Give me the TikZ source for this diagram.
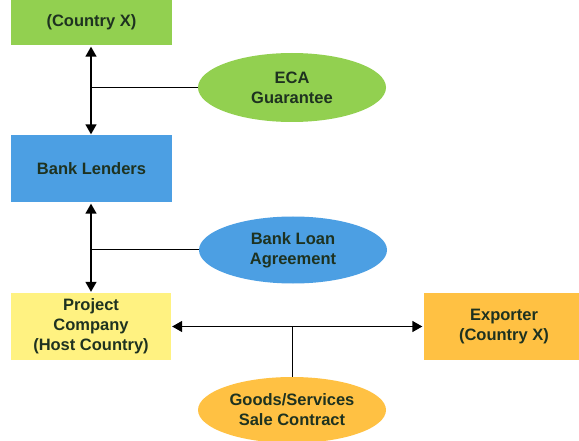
\documentclass[tikz,border=0pt]{standalone}
\usepackage{fontspec}
\setmainfont{Liberation Sans}
\usetikzlibrary{arrows.meta,shapes.geometric}

\definecolor{ecagreen}{HTML}{92D050}
\definecolor{bankblue}{HTML}{4C9FE3}
\definecolor{projyellow}{HTML}{FFF281}
\definecolor{expgold}{HTML}{FFC143}
\definecolor{inkdark}{HTML}{1E3220}

\tikzset{
  party/.style={rectangle, minimum width=161pt, minimum height=67pt, inner sep=0pt,
    align=center, text=inkdark, font=\bfseries\fontsize{16.5}{20}\selectfont},
  deal/.style={ellipse, minimum width=188pt, minimum height=67pt, inner sep=0pt,
    align=center, text=inkdark, font=\bfseries\fontsize{16.5}{20}\selectfont},
  link/.style={line width=1.5pt, {Triangle[length=10pt,width=11pt]}-{Triangle[length=10pt,width=11pt]}},
  tie/.style={line width=1pt}
}

\begin{document}
\begin{tikzpicture}[x=1pt, y=-1pt]
    \useasboundingbox (0,0) rectangle (579,441);
    \clip (0,0) rectangle (579,441);
    %------------Bloques----------
    \node[party, fill=ecagreen, minimum height=45pt] (eca) at (91.5,22.5) {(Country X)};
    \node[party, fill=bankblue] (bank) at (91.5,168.5) {Bank Lenders};
    \node[party, fill=projyellow, minimum width=160pt] (proj) at (91,326.5)
        {Project\\Company\\(Host Country)};
    \node[party, fill=expgold] (exp) at (504,326.5) {Exporter\\(Country X)};
    %------------Contratos----------
    \node[deal, fill=ecagreen, minimum height=69pt] (guar) at (292,87.5) {ECA\\Guarantee};
    \node[deal, fill=bankblue] (loan) at (293,250) {Bank Loan\\Agreement};
    \node[deal, fill=expgold, minimum height=66pt] (sale) at (292,410) {Goods/Services\\Sale Contract};
    %------------Flechas-----------
    \draw[link, shorten <=1.5pt, shorten >=0.5pt] (eca.south -| 91,0) -- (bank.north -| 91,0);
    \draw[link, shorten <=1.5pt, shorten >=1pt] (bank.south -| 91,0) -- (proj.north -| 91,0);
    \draw[link, shorten <=1pt, shorten >=1pt] (proj.east) -- (exp.west);
    %------------Uniones-----------
    \draw[tie] (guar.west) -- (guar.west -| 91,0);
    \draw[tie] (loan.west) -- (loan.west -| 91,0);
    \draw[tie] (sale.north) -- (sale.north |- proj.east);
\end{tikzpicture}
\end{document}
